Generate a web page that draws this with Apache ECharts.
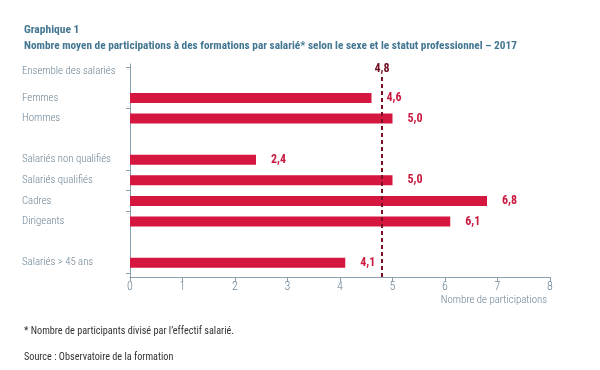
<!DOCTYPE html>
<html><head><meta charset="utf-8">
<script src="https://cdn.jsdelivr.net/npm/echarts@6/dist/echarts.min.js"></script>
<style>html,body{margin:0;padding:0;background:#fff}#c{width:600px;height:370px}</style>
</head><body><div id="c"></div>
<script>
const categories = ['Ensemble des salariés', 'Femmes', 'Hommes', '', 'Salariés non qualifiés', 'Salariés qualifiés', 'Cadres', 'Dirigeants', ' ', 'Salariés > 45 ans'];
const values = [null, 4.6, 5.0, null, 2.4, 5.0, 6.8, 6.1, null, 4.1];
const ensembleValue = 4.8;
const tickBoundaryIndices = [0, 2, 5, 6, 7];
const xMin = 0, xMax = 8, xStep = 1;

const FONT = "'Roboto Condensed', 'DejaVu Sans Condensed', sans-serif";
const AXIS = '#8a9fae';
const LABEL = '#6c8394';
const TITLE = '#437692';
const fmt = v => v.toFixed(1).replace('.', ',');

const chart = echarts.init(document.getElementById('c'), null, {renderer: 'canvas'});
chart.setOption({
  animation: false,
  textStyle: {fontFamily: FONT},
  title: [
    {text: 'Graphique 1', left: 19, top: 19, textStyle: {fontFamily: FONT, fontSize: 11.5, fontWeight: 'bold', color: TITLE}},
    {text: 'Nombre moyen de participations à des formations par salarié* selon le sexe et le statut professionnel – 2017', left: 19, top: 36, textStyle: {fontFamily: FONT, fontSize: 11.3, fontWeight: 'bold', color: TITLE}},
    {text: '* Nombre de participants divisé par l\u2019effectif salarié.', left: 19, top: 321, textStyle: {fontFamily: FONT, fontSize: 10.2, fontWeight: 'normal', color: '#333'}},
    {text: 'Source : Observatoire de la formation', left: 19, top: 347, textStyle: {fontFamily: FONT, fontSize: 10.2, fontWeight: 'normal', color: '#333'}}
  ],
  grid: [
    {left: 130, right: 50, top: 67, bottom: 97},
    {left: 130, right: 50, top: 64, bottom: 93},
    {left: 130, right: 50, top: 76, bottom: 93}
  ],
  xAxis: [
    {gridIndex: 0, type: 'value', min: xMin, max: xMax, interval: xStep, show: false},
    {gridIndex: 1, type: 'value', min: xMin, max: xMax, interval: xStep,
      axisLine: {show: true, lineStyle: {color: AXIS, width: 1}},
      axisTick: {show: true, length: 4, lineStyle: {color: AXIS}},
      splitLine: {show: false},
      axisLabel: {color: LABEL, fontSize: 12, margin: 4, fontFamily: FONT, fontWeight: 300},
      name: 'Nombre de participations', nameLocation: 'end', nameGap: -3,
      nameTextStyle: {color: LABEL, fontSize: 10.8, align: 'right', verticalAlign: 'top', padding: [18, 0, 0, 0], fontFamily: FONT, fontWeight: 300}
    },
    {gridIndex: 2, type: 'value', min: xMin, max: xMax, show: false}
  ],
  yAxis: [
    {gridIndex: 0, type: 'category', data: categories, inverse: true,
      axisLine: {show: false},
      axisTick: {show: true, length: 4, lineStyle: {color: AXIS},
        interval: (i) => tickBoundaryIndices.indexOf(i) >= 0},
      axisLabel: {interval: 0, align: 'left', margin: 108, color: LABEL, fontSize: 10.8, fontFamily: FONT, fontWeight: 300,
        formatter: (v, i) => i === 0 ? '{up|' + v + '}' : v,
        rich: {up: {padding: [0, 0, 12, 0], color: LABEL, fontSize: 10.8, fontFamily: FONT, fontWeight: 300}}
      }
    },
    {gridIndex: 1, type: 'value', min: 0, max: 1,
      axisLine: {show: true, lineStyle: {color: AXIS}}, axisTick: {show: false},
      axisLabel: {show: false}, splitLine: {show: false}},
    {gridIndex: 2, type: 'value', min: 0, max: 1, show: false}
  ],
  series: [
    {type: 'bar', xAxisIndex: 0, yAxisIndex: 0, data: values, barWidth: 10,
      itemStyle: {color: '#d5163e'},
      label: {show: true, position: 'right', distance: 15, formatter: p => fmt(p.value),
        color: '#c91a40', fontWeight: 'bold', fontSize: 12, fontFamily: FONT}
    },
    {type: 'scatter', xAxisIndex: 2, yAxisIndex: 2, data: [], silent: true,
      markLine: {symbol: 'none', silent: true,
        lineStyle: {color: '#7d0f25', type: [4, 3], width: 2},
        label: {show: true, position: 'end', distance: 1, formatter: () => fmt(ensembleValue),
          color: '#6e0d21', fontWeight: 'bold', fontSize: 12, fontFamily: FONT},
        data: [{xAxis: ensembleValue}]
      }
    }
  ]
});
</script></body></html>
